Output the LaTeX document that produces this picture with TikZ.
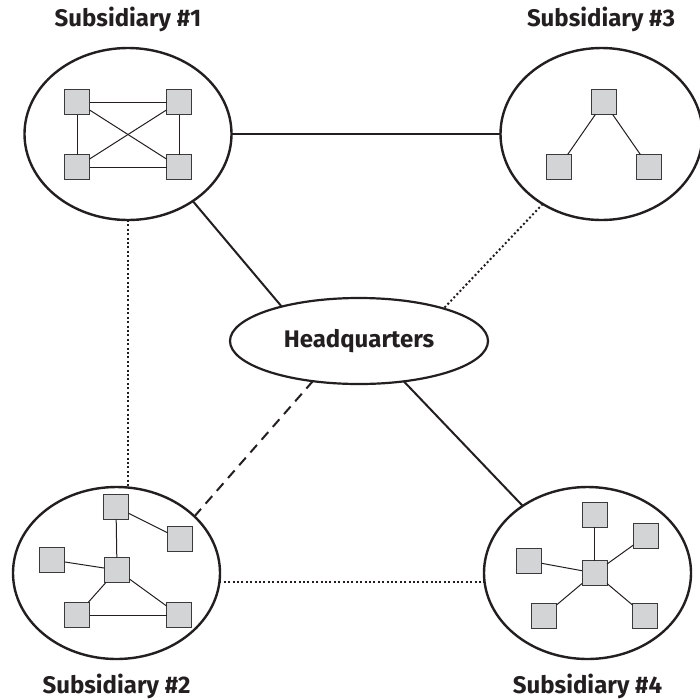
\documentclass[tikz,border=0pt]{standalone}
\usepackage{fontspec}
\setmainfont{Fira Sans}
\usetikzlibrary{shapes.geometric}
\definecolor{ink}{HTML}{231F20}
\definecolor{boxfill}{HTML}{D3D4D6}
\definecolor{boxline}{HTML}{3A3A3C}
\tikzset{
  site/.style={ellipse, draw=ink, line width=2.4pt, inner sep=0pt, outer sep=0pt,
               minimum width=207pt, minimum height=172pt},
  hub/.style={ellipse, draw=ink, line width=2.2pt, inner sep=0pt, outer sep=0pt,
              minimum width=258pt, minimum height=86pt,
              font=\fontsize{24}{28}\selectfont\bfseries, text=ink},
  pc/.style={rectangle, draw=boxline, fill=boxfill, line width=1pt,
             minimum size=25pt, inner sep=0pt, outer sep=0pt},
  lan/.style={draw=ink, line width=1pt},
  title/.style={font=\fontsize{24}{28}\selectfont\bfseries, text=ink, inner sep=0pt},
  trunk/.style={draw=ink, line width=2pt},
  dotline/.style={draw=ink, line width=2pt, dash pattern=on 2pt off 2.4pt},
  dashline/.style={draw=ink, line width=2pt, dash pattern=on 10pt off 7pt}
}
\begin{document}
\begin{tikzpicture}[x=1pt, y=-1pt]
\useasboundingbox (0,0) rectangle (700,699);

% sites and headquarters
\node[site] (s1) at (128,134) {};
\node[site, minimum width=202pt] (s3) at (601.5,134) {};
\node[site] (s2) at (116.5,573) {};
\node[site] (s4) at (587.5,573) {};
\node[hub] (hq) at (359,341) {Headquarters};

% titles
\node[title] (t1) at (128,19) {Subsidiary \#1};
\node[title] (t3) at (601,19) {Subsidiary \#3};
\node[title] (t2) at (116.5,686) {Subsidiary \#2};
\node[title] (t4) at (587.5,686) {Subsidiary \#4};

% links between sites
\draw[trunk] (s1.east) -- (s3.west);
\draw[trunk] (s1.-46) -- (hq.156);
\draw[trunk] (hq.-42) -- (s4.134);
\draw[dotline] (s3.-130) -- (hq.21);
\draw[dotline] (s1.south) -- (s1.south |- s2.north);
\draw[dotline] (s2.-5) -- (s4.185);
\draw[dashline] (s2.36) -- (hq.-139);

% Subsidiary #1: full mesh
\node[pc] (a1) at (77,102) {};
\node[pc] (a2) at (179,102) {};
\node[pc] (a3) at (77,167) {};
\node[pc] (a4) at (179,167) {};
\draw[lan] (a1) -- (a2);
\draw[lan] (a3) -- (a4);
\draw[lan] (a1) -- (a3);
\draw[lan] (a2) -- (a4);
\draw[lan] (a1) -- (a4);
\draw[lan] (a2) -- (a3);

% Subsidiary #3: tree
\node[pc] (c1) at (604,102) {};
\node[pc] (c2) at (559,167) {};
\node[pc] (c3) at (649,167) {};
\draw[lan] (c1) -- (c2);
\draw[lan] (c1) -- (c3);

% Subsidiary #2: hybrid
\node[pc] (b1) at (116,507) {};
\node[pc] (b2) at (180,539) {};
\node[pc] (b3) at (52,560) {};
\node[pc] (b4) at (117,570) {};
\node[pc] (b5) at (77,615) {};
\node[pc] (b6) at (179,615) {};
\draw[lan] (b1) -- (b4);
\draw[lan] (b1) -- (b2);
\draw[lan] (b3) -- (b4);
\draw[lan] (b4) -- (b5);
\draw[lan] (b4) -- (b6);
\draw[lan] (b5) -- (b6);

% Subsidiary #4: star
\node[pc] (d0) at (594.5,573) {};
\node[pc] (d1) at (594.5,514.5) {};
\node[pc] (d2) at (646,536) {};
\node[pc] (d3) at (529,561) {};
\node[pc] (d4) at (544,615.5) {};
\node[pc] (d5) at (645,615.5) {};
\foreach \n in {d1,d2,d3,d4,d5} \draw[lan] (d0) -- (\n);
\end{tikzpicture}
\end{document}
